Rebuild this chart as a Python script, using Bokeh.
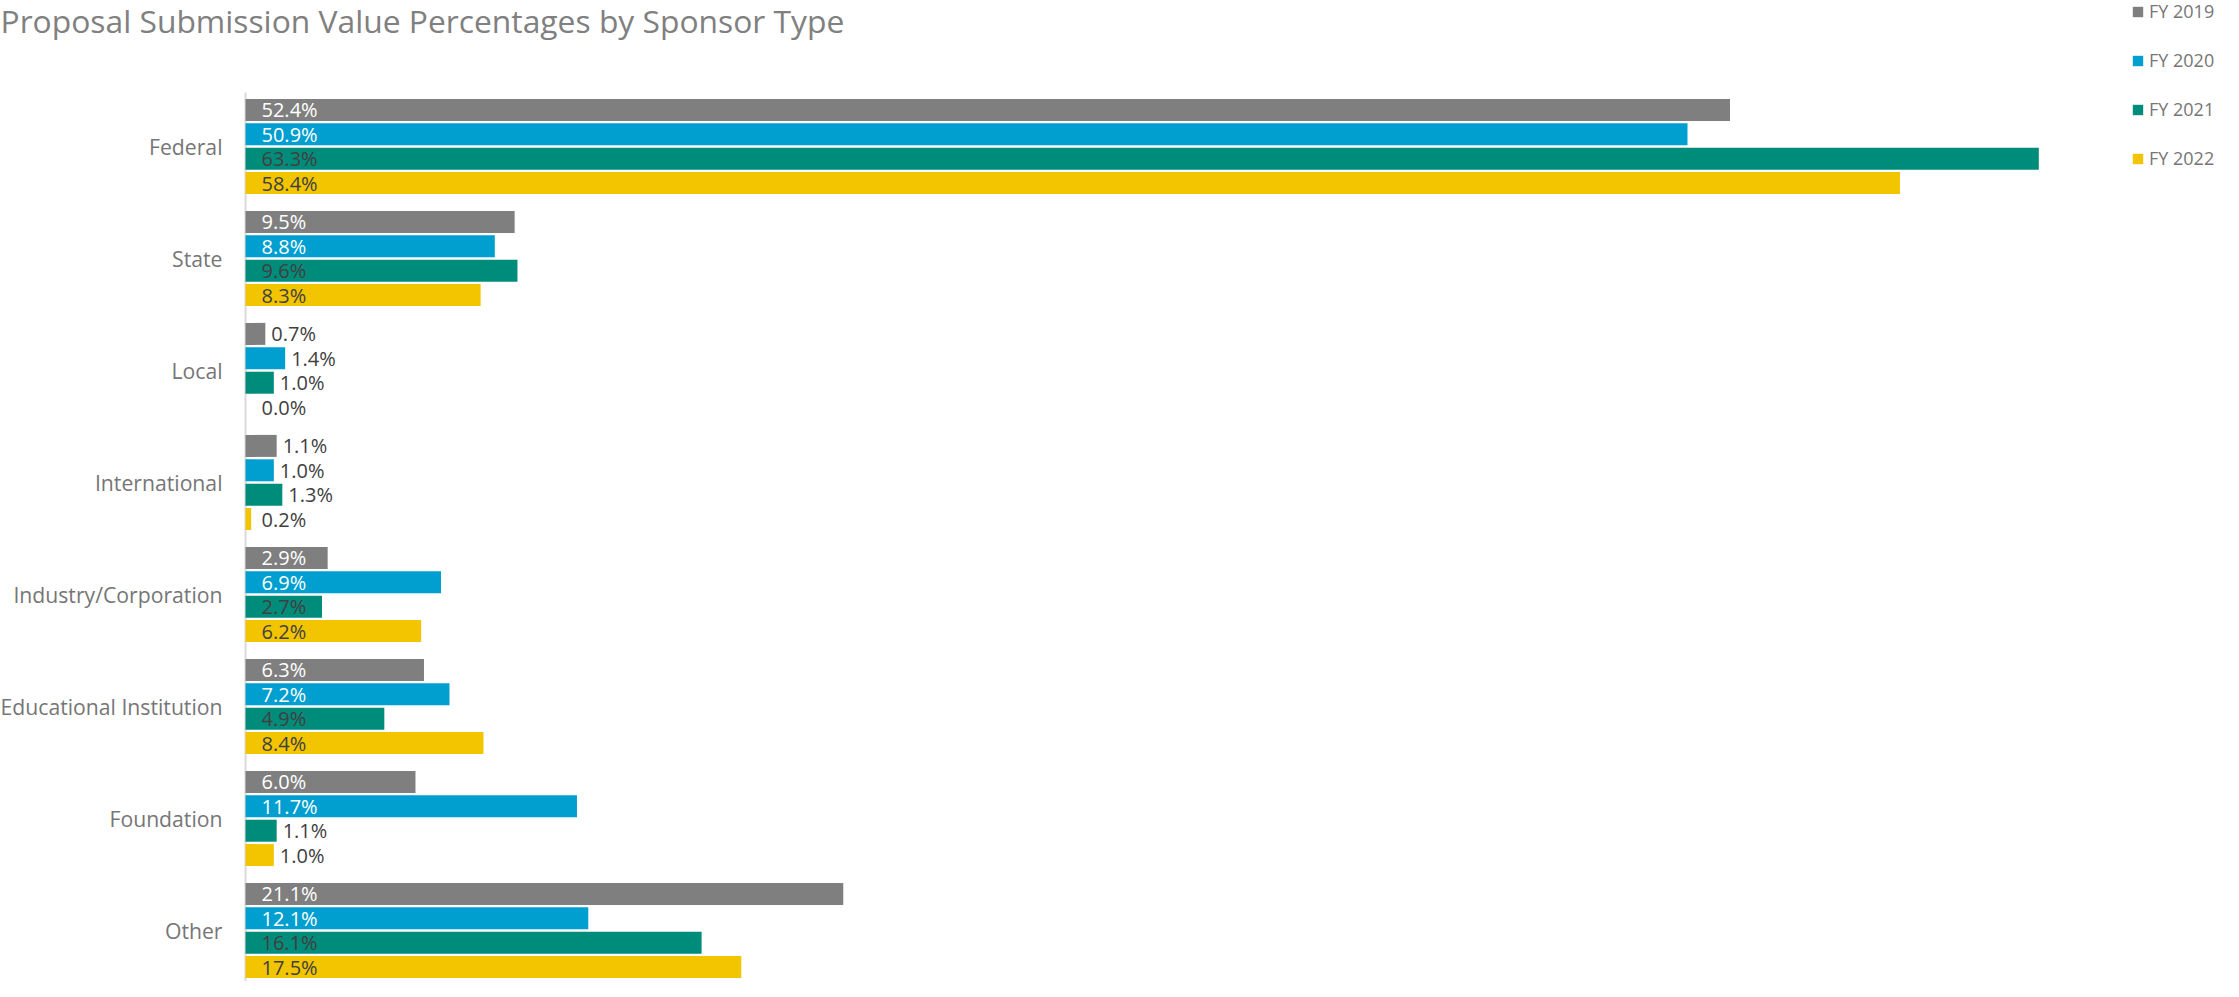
from bokeh.plotting import figure
from bokeh.models import (ColumnDataSource, Range1d, LabelSet, Legend, LegendItem, Label)
from bokeh.core.properties import value
from bokeh.embed import file_html
from bokeh.resources import INLINE

categories = ["Federal", "State", "Local", "International", "Industry/Corporation",
              "Educational Institution", "Foundation", "Other"]
years = ["FY 2019", "FY 2020", "FY 2021", "FY 2022"]
fy2019 = [52.4, 9.5, 0.7, 1.1, 2.9, 6.3, 6.0, 21.1]
fy2020 = [50.9, 8.8, 1.4, 1.0, 6.9, 7.2, 11.7, 12.1]
fy2021 = [63.3, 9.6, 1.0, 1.3, 2.7, 4.9, 1.1, 16.1]
fy2022 = [58.4, 8.3, 0.0, 0.2, 6.2, 8.4, 1.0, 17.5]
series = [fy2019, fy2020, fy2021, fy2022]
colors = ["#7f7f7f", "#009fcf", "#008c7a", "#f2c500"]
inside_text_colors = ["#ffffff", "#ffffff", "#404040", "#404040"]
title_text = "Proposal Submission Value Percentages by Sponsor Type"

W, H = 2223, 981
AXIS_X = 245.0
PX_PER_UNIT = 28.33
x_start = -AXIS_X / PX_PER_UNIT
x_end = x_start + W / PX_PER_UNIT
GROUP_PX = 112.0
y_top = -146.0 / GROUP_PX
y_bottom = y_top + H / GROUP_PX
axis_top = y_top + 92.0 / GROUP_PX

p = figure(width=W, height=H, output_backend="svg", toolbar_location=None,
           x_range=Range1d(x_start, x_end), y_range=Range1d(y_bottom, y_top),
           min_border_left=0, min_border_top=0,
           min_border_right=0, min_border_bottom=0)
p.outline_line_color = None
p.grid.visible = False
p.axis.visible = False
p.background_fill_color = "white"
p.border_fill_color = "white"

step = 24.4 / GROUP_PX
bar_h = 22.0 / GROUP_PX
font = "Open Sans"

# category axis line
p.segment(x0=[0], y0=[axis_top], x1=[0], y1=[y_bottom], line_color="#d9d9d9",
          line_width=2)

legend_items = []
for k, (vals, col) in enumerate(zip(series, colors)):
    ys = [i + (k - 1.5) * step for i in range(len(categories))]
    src = ColumnDataSource(dict(y=ys, right=vals))
    r = p.hbar(y="y", right="right", left=0, height=bar_h, source=src,
               fill_color=col, line_color=None)
    legend_items.append(LegendItem(label=years[k], renderers=[r]))

    lx, loff, ltxt, lcol = [], [], [], []
    for v in vals:
        ltxt.append(f"{v:.1f}%")
        if v >= 2:
            lx.append(0)
            loff.append(16)
            lcol.append(inside_text_colors[k])
        else:
            lx.append(v)
            loff.append(max(6, 16 - v * PX_PER_UNIT))
            lcol.append("#404040")
    lsrc = ColumnDataSource(dict(x=lx, y=ys, t=ltxt, c=lcol, off=loff))
    p.add_layout(LabelSet(x="x", y="y", text="t", source=lsrc, x_offset="off",
                          text_color="c", text_font=value(font),
                          text_font_size=value("20px"),
                          text_baseline="middle", text_align="left"))

# category (axis) labels
csrc = ColumnDataSource(dict(x=[0] * len(categories), y=list(range(len(categories))),
                             t=categories))
p.add_layout(LabelSet(x="x", y="y", text="t", source=csrc, x_offset=-23,
                      text_color="#767676", text_font=value(font),
                      text_font_size=value("21.2px"), text_baseline="middle",
                      text_align="right"))

legend_h = 167
legend = Legend(items=legend_items, location=(2131, H - legend_h - 3),
                orientation="vertical", glyph_width=13, glyph_height=13,
                label_height=13, spacing=25, label_standoff=5, padding=0, margin=0,
                label_text_font=font, label_text_font_size="18px",
                label_text_color="#767676", background_fill_alpha=0,
                border_line_color=None)
p.add_layout(legend)

title = Label(x=0, y=H - 20, x_units="screen", y_units="screen",
              text=title_text, text_font=font, text_font_size="31.8px",
              text_color="#808080", text_align="left", text_baseline="alphabetic")
p.add_layout(title)

open("out.html", "w").write(file_html(p, INLINE))
